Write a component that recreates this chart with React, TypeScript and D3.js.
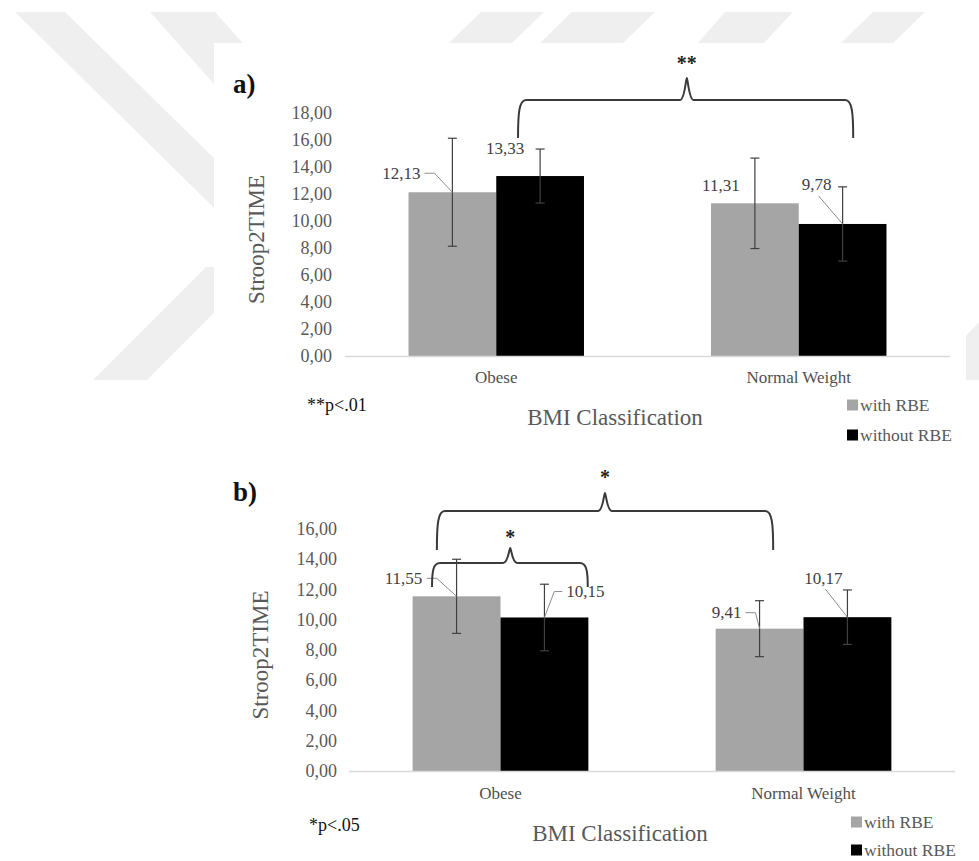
import React from "react";
import * as d3 from "d3";

// ---- data ----
const categories = ["Obese", "Normal Weight"];
const seriesNames = ["with RBE", "without RBE"];
const seriesColors = ["#a5a5a5", "#000000"];

// panel a) means and error amounts
const aWithRBE = [12.13, 11.31];
const aWithoutRBE = [13.33, 9.78];
const aWithRBEError = [4.0, 3.35];
const aWithoutRBEError = [2.0, 2.75];
const aTicks = [0, 2, 4, 6, 8, 10, 12, 14, 16, 18];

// panel b) means and error amounts
const bWithRBE = [11.55, 9.41];
const bWithoutRBE = [10.15, 10.17];
const bWithRBEError = [2.45, 1.85];
const bWithoutRBEError = [2.2, 1.8];
const bTicks = [0, 2, 4, 6, 8, 10, 12, 14, 16];

const FONT = "Liberation Serif, Times New Roman, serif";
const locale = d3.formatLocale({ decimal: ",", thousands: ".", grouping: [3], currency: ["", ""] });
const fmt = locale.format(".2f");

type LabelPos = { dx: number; dy: number; leader: null | "right" | "left" | "bottom" };
type Brace = { x1: number; x2: number; xp: number; yH: number; yEnd: number; yPeak: number; yStar: number; stars: string };

type PanelProps = {
  tag: string;
  tagY: number;
  x0: number;
  x1: number;
  yBase: number;
  yTopPx: number;
  yMax: number;
  ticks: number[];
  tickX: number;
  values: number[][];
  errors: number[][];
  labels: LabelPos[][];
  braces: Brace[];
  note: string;
  noteX: number;
  noteY: number;
  catY: number;
  titleX: number;
  titleY: number;
  yTitleX: number;
  legendX: number;
  legendY: number[];
};

function bracePath(x1: number, x2: number, xp: number, yH: number, yEnd: number, yPeak: number) {
  const r = 8;
  const w = 7;
  return [
    `M${x1},${yEnd}`,
    `C${x1},${yH + (yEnd - yH) * 0.35} ${x1 + 1},${yH} ${x1 + r},${yH}`,
    `L${xp - w},${yH}`,
    `C${xp - 2},${yH} ${xp - 1},${yPeak} ${xp},${yPeak}`,
    `C${xp + 1},${yPeak} ${xp + 2},${yH} ${xp + w},${yH}`,
    `L${x2 - r},${yH}`,
    `C${x2 - 1},${yH} ${x2},${yH + (yEnd - yH) * 0.35} ${x2},${yEnd}`,
  ].join(" ");
}

function textWidth(s: string, fs: number) {
  let w = 0;
  for (const ch of s) w += ch === "," ? 0.25 * fs : 0.5 * fs;
  return w;
}

function Panel(p: PanelProps) {
  const y = d3.scaleLinear().domain([0, p.yMax]).range([p.yBase, p.yTopPx]);
  const xBand = d3.scaleBand<string>().domain(categories).range([p.x0, p.x1]).padding(0);
  const groupW = xBand.bandwidth() * 0.58;
  const xInner = d3.scaleBand<string>().domain(seriesNames).range([0, groupW]).padding(0);
  const groupOffset = (xBand.bandwidth() - groupW) / 2;
  const plotW = p.x1 - p.x0;
  const labelFs = 17;

  return (
    <g>
      {/* panel tag */}
      <text x={233} y={p.tagY} fontFamily={FONT} fontWeight="bold" fontSize={27} fill="#111" dominantBaseline="central">
        {p.tag}
      </text>

      {/* y tick labels */}
      {p.ticks.map((t) => (
        <text key={t} x={p.tickX} y={y(t)} textAnchor="end" dominantBaseline="central" fontFamily={FONT} fontSize={18} fill="#595959">
          {fmt(t)}
        </text>
      ))}

      {/* y axis title */}
      <text
        transform={`translate(${p.yTitleX},${(p.yBase + p.yTopPx) / 2 + 5}) rotate(-90)`}
        textAnchor="middle"
        dominantBaseline="central"
        fontFamily={FONT}
        fontSize={23}
        fill="#595959"
      >
        Stroop2TIME
      </text>

      {/* bars */}
      {categories.map((c, ci) =>
        seriesNames.map((s, si) => {
          const v = p.values[si][ci];
          const bx = (xBand(c) as number) + groupOffset + (xInner(s) as number);
          return (
            <rect key={c + s} x={bx} y={y(v)} width={xInner.bandwidth()} height={p.yBase - y(v)} fill={seriesColors[si]} />
          );
        })
      )}

      {/* category axis */}
      <line x1={p.x0} x2={p.x1} y1={p.yBase + 0.5} y2={p.yBase + 0.5} stroke="#d9d9d9" strokeWidth={1.3} />
      {categories.map((c) => (
        <text key={c} x={(xBand(c) as number) + xBand.bandwidth() / 2} y={p.catY} textAnchor="middle" dominantBaseline="central" fontFamily={FONT} fontSize={17} fill="#505050">
          {c}
        </text>
      ))}

      {/* error bars */}
      {categories.map((c, ci) =>
        seriesNames.map((s, si) => {
          const v = p.values[si][ci];
          const e = p.errors[si][ci];
          const cx = (xBand(c) as number) + groupOffset + (xInner(s) as number) + xInner.bandwidth() / 2;
          const yHi = y(v + e);
          const yLo = y(v - e);
          return (
            <g key={"e" + c + s} stroke="#404040" strokeWidth={1.2}>
              <line x1={cx} x2={cx} y1={yHi} y2={yLo} />
              <line x1={cx - 4.5} x2={cx + 4.5} y1={yHi} y2={yHi} />
              <line x1={cx - 4.5} x2={cx + 4.5} y1={yLo} y2={yLo} />
            </g>
          );
        })
      )}

      {/* data labels with leader lines */}
      {categories.map((c, ci) =>
        seriesNames.map((s, si) => {
          const v = p.values[si][ci];
          const ax = (xBand(c) as number) + groupOffset + (xInner(s) as number) + xInner.bandwidth() / 2;
          const ay = y(v);
          const lp = p.labels[si][ci];
          const lx = ax + lp.dx;
          const ly = ay + lp.dy;
          const txt = fmt(v);
          const hw = textWidth(txt, labelFs) / 2;
          let leader = null;
          if (lp.leader === "right") {
            const sx = lx + hw + 4;
            leader = `M${sx},${ly} L${sx + 10},${ly} L${ax},${ay}`;
          } else if (lp.leader === "left") {
            const sx = lx - hw - 4;
            leader = `M${sx},${ly} L${sx - 8},${ly} L${ax},${ay}`;
          } else if (lp.leader === "bottom") {
            leader = `M${lx + 2},${ly + 11} L${ax},${ay}`;
          }
          return (
            <g key={"l" + c + s}>
              {leader && <path d={leader} fill="none" stroke="#8c8c8c" strokeWidth={1} />}
              <text x={lx} y={ly} textAnchor="middle" dominantBaseline="central" fontFamily={FONT} fontSize={labelFs} fill="#404040">
                {txt}
              </text>
            </g>
          );
        })
      )}

      {/* significance braces */}
      {p.braces.map((b, i) => {
        const x1 = p.x0 + b.x1 * plotW;
        const x2 = p.x0 + b.x2 * plotW;
        const xp = p.x0 + b.xp * plotW;
        return (
          <g key={"b" + i}>
            <path d={bracePath(x1, x2, xp, y(b.yH), y(b.yEnd), y(b.yPeak))} fill="none" stroke="#3a3a3a" strokeWidth={2} />
            <text x={xp} y={y(b.yStar) + 9} textAnchor="middle" fontFamily={FONT} fontWeight="bold" fontSize={20} fill="#222">
              {b.stars}
            </text>
          </g>
        );
      })}

      {/* significance note */}
      <text x={p.noteX} y={p.noteY} dominantBaseline="central" fontFamily={FONT} fontSize={18} fill="#111">
        {p.note}
      </text>

      {/* x axis title */}
      <text x={p.titleX} y={p.titleY} textAnchor="middle" dominantBaseline="central" fontFamily={FONT} fontSize={23} fill="#595959">
        BMI Classification
      </text>

      {/* legend */}
      {seriesNames.map((s, si) => (
        <g key={"lg" + s}>
          <rect x={p.legendX} y={p.legendY[si] - 5.5} width={11} height={11} fill={seriesColors[si]} />
          <text x={p.legendX + 13} y={p.legendY[si]} dominantBaseline="central" fontFamily={FONT} fontSize={17.5} fill="#595959">
            {s}
          </text>
        </g>
      ))}
    </g>
  );
}

export default function App() {
  return (
    <svg width={979} height={861} style={{ position: "absolute", left: 0, top: 0, background: "#fff" }}>
      {/* background watermark */}
      <g fill="#efefef">
        <polygon points="15,12 65,12 318,260 267,260" />
        <polygon points="150,12 215,12 400,220 335,220" />
        <polygon points="93,380 147,380 260,267 206,267" />
        <polygon points="481,12 544,12 512,43 449,43" />
        <polygon points="572,12 655,12 623,43 540,43" />
        <polygon points="725,12 793,12 764,43 698,43" />
        <polygon points="873,12 925,12 893,43 841,43" />
        <polygon points="979,322 979,380 966,380 966,336" />
      </g>
      <rect x={214} y={43} width={752} height={818} fill="#ffffff" />

      <Panel
        tag="a)"
        tagY={84}
        x0={345}
        x1={950}
        yBase={356}
        yTopPx={113}
        yMax={18}
        ticks={aTicks}
        tickX={332}
        values={[aWithRBE, aWithoutRBE]}
        errors={[aWithRBEError, aWithoutRBEError]}
        labels={[
          [
            { dx: -51, dy: -19, leader: "right" },
            { dx: -34, dy: -18, leader: null },
          ],
          [
            { dx: -35, dy: -28, leader: null },
            { dx: -26, dy: -39, leader: "bottom" },
          ],
        ]}
        braces={[{ x1: 0.286, x2: 0.84, xp: 0.565, yH: 18.96, yEnd: 16.15, yPeak: 20.59, yStar: 21.85, stars: "**" }]}
        note="**p<.01"
        noteX={307}
        noteY={405}
        catY={377}
        titleX={615}
        titleY={417}
        yTitleX={256}
        legendX={847}
        legendY={[405, 435]}
      />

      <Panel
        tag="b)"
        tagY={492}
        x0={349}
        x1={955}
        yBase={771}
        yTopPx={529}
        yMax={16}
        ticks={bTicks}
        tickX={337}
        values={[bWithRBE, bWithoutRBE]}
        errors={[bWithRBEError, bWithoutRBEError]}
        labels={[
          [
            { dx: -53, dy: -18, leader: "right" },
            { dx: -33, dy: -16, leader: "right" },
          ],
          [
            { dx: 41, dy: -26, leader: "left" },
            { dx: -24, dy: -39, leader: "bottom" },
          ],
        ]}
        braces={[
          { x1: 0.145, x2: 0.7, xp: 0.4224, yH: 17.19, yEnd: 14.61, yPeak: 18.38, yStar: 19.57, stars: "*" },
          { x1: 0.137, x2: 0.394, xp: 0.266, yH: 13.75, yEnd: 12.17, yPeak: 14.74, yStar: 15.6, stars: "*" },
        ]}
        note="*p<.05"
        noteX={309}
        noteY={825}
        catY={793}
        titleX={620}
        titleY={833}
        yTitleX={260}
        legendX={851}
        legendY={[822, 850]}
      />
    </svg>
  );
}
